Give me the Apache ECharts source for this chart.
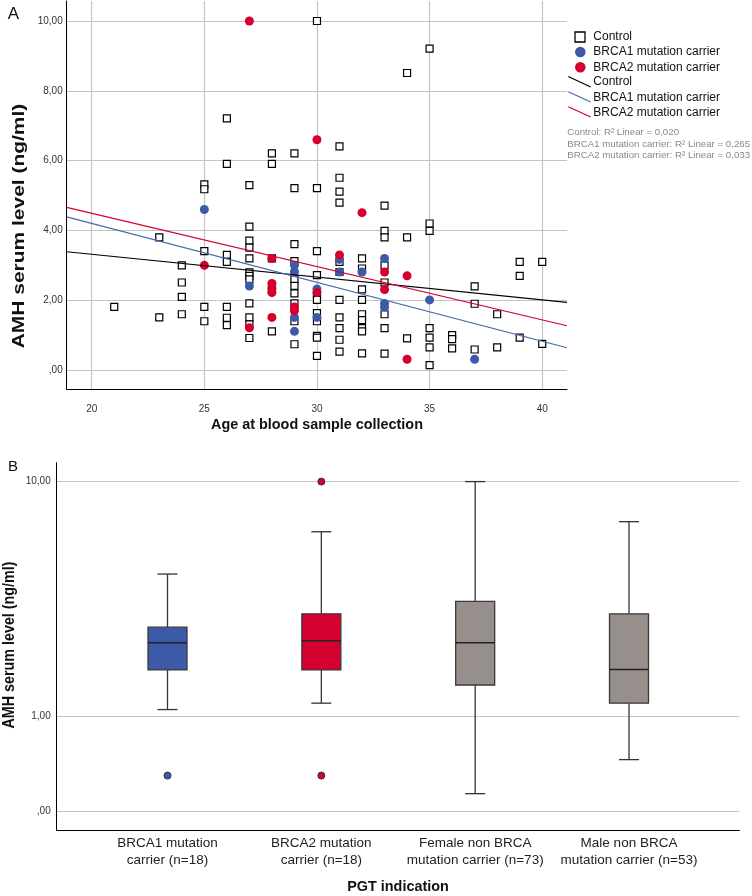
<!DOCTYPE html>
<html><head><meta charset="utf-8">
<script src="https://cdn.jsdelivr.net/npm/echarts@6/dist/echarts.min.js"></script>
<style>html,body{margin:0;padding:0;background:#fff}#c{width:752px;height:896px}</style>
</head><body><div id="c"></div>
<script>
// ---------- Panel A data: [age, AMH ng/ml] ----------
const controlPts = [
  [21,1.81],
  [23,3.80],[23,1.51],
  [24,3.00],[24,2.51],[24,2.10],[24,1.60],
  [25,5.32],[25,5.18],[25,3.41],[25,1.81],[25,1.40],
  [26,7.21],[26,5.91],[26,3.30],[26,3.10],[26,1.81],[26,1.50],[26,1.29],
  [27,5.30],[27,4.11],[27,3.71],[27,3.51],[27,3.20],[27,2.80],[27,2.70],[27,2.60],[27,1.91],[27,1.51],[27,1.31],[27,0.92],
  [28,6.21],[28,5.91],[28,3.20],[28,2.31],[28,1.11],
  [29,6.21],[29,5.21],[29,3.61],[29,3.12],[29,2.60],[29,2.41],[29,2.20],[29,1.91],[29,1.40],[29,0.74],
  [30,10.0],[30,5.21],[30,3.41],[30,2.72],[30,2.15],[30,2.01],[30,1.63],[30,1.40],[30,0.98],[30,0.93],[30,0.41],
  [31,6.41],[31,5.51],[31,5.11],[31,4.80],[31,3.10],[31,2.81],[31,2.01],[31,1.51],[31,1.20],[31,0.87],[31,0.53],
  [32,3.20],[32,2.91],[32,2.31],[32,2.01],[32,1.60],[32,1.43],[32,1.20],[32,1.11],[32,0.48],
  [33,4.71],[33,3.99],[33,3.80],[33,3.00],[33,2.51],[33,1.60],[33,1.20],[33,0.47],
  [34,8.51],[34,3.80],[34,0.91],
  [35,9.21],[35,4.20],[35,3.99],[35,1.20],[35,0.93],[35,0.65],[35,0.14],
  [36,1.00],[36,0.89],[36,0.62],
  [37,2.40],[37,1.90],[37,0.59],
  [38,1.60],[38,0.65],
  [39,3.10],[39,2.70],[39,0.93],
  [40,3.10],[40,0.75]
];
const brca1Pts = [
  [25,4.60],[27,2.41],[29,3.00],[29,2.82],[29,1.51],[29,1.11],[30,2.32],[30,1.51],
  [31,3.17],[31,2.81],[32,2.81],[33,3.20],[33,1.91],[33,1.80],[35,2.01],[37,0.31]
];
const brca2Pts = [
  [25,3.00],[27,10.0],[27,1.21],[28,3.20],[28,2.48],[28,2.34],[28,2.22],[28,1.51],[29,1.81],
  [29,1.70],[30,6.60],[30,2.22],[31,3.30],[32,4.51],[33,2.81],[33,2.31],[34,2.70],[34,0.31]
];
// fit-line end points (age at axis ends, fitted AMH)
const fitAges = [18.89, 41.10];
const fitControl = [3.39, 1.94];
const fitBrca1 = [4.39, 0.64];
const fitBrca2 = [4.66, 1.27];
const xTicksA = [20,25,30,35,40];
const yTicksA = [0,2,4,6,8,10];

// ---------- Panel B data ----------
const boxCategories = ['BRCA1 mutation\ncarrier (n=18)','BRCA2 mutation\ncarrier (n=18)','Female non BRCA\nmutation carrier (n=73)','Male non BRCA\nmutation carrier (n=53)'];
const boxLow    = [1.10, 1.20, 0.14, 0.46];
const boxQ1     = [1.80, 1.80, 1.51, 1.20];
const boxMedian = [2.41, 2.46, 2.41, 1.81];
const boxQ3     = [2.82, 3.21, 3.61, 3.21];
const boxHigh   = [4.62, 6.64, 10.0, 7.22];
const outlierCat = [0, 1, 1];
const outlierVal = [0.30, 10.0, 0.30];
const yTicksB = [0, 1, 10];

const BLUE = '#3d5aa8', RED = '#d5002f', GRAY = '#968f8c';
const boxColors = [BLUE, RED, GRAY, GRAY];
const FONT = "'Liberation Sans', Arial, sans-serif";

const slog = v => Math.sign(v) * Math.log10(1 + Math.abs(v));
const fmt = v => v === 0 ? ',00' : v.toFixed(2).replace('.', ',');

const boxData = boxCategories.map((c, i) => [i + 1, slog(boxLow[i]), slog(boxQ1[i]), slog(boxMedian[i]), slog(boxQ3[i]), slog(boxHigh[i])]);
const outlierData = outlierCat.map((c, i) => ({ value: [c + 1, slog(outlierVal[i])], itemStyle: { color: boxColors[c] } }));

const gridLine = { show: true, lineStyle: { color: '#c4c4c4', width: 1.2 } };
const axisLineBlack = { show: true, onZero: false, lineStyle: { color: '#000', width: 1 } };

const chart = echarts.init(document.getElementById('c'));
chart.setOption({
  animation: false,
  backgroundColor: '#fff',
  grid: [
    { left: 66.7, top: 1, width: 500.3, height: 388.3 },
    { left: 56.7, top: 462.7, width: 682.6, height: 367.3 }
  ],
  xAxis: [
    { gridIndex: 0, type: 'value', min: 18.89, max: 41.10,
      axisLine: axisLineBlack,
      axisTick: { show: false, customValues: xTicksA },
      axisLabel: { customValues: xTicksA, margin: 15, fontSize: 10, color: '#333', fontFamily: FONT },
      splitLine: gridLine },
    { gridIndex: 1, type: 'value', min: 0.2797, max: 4.717,
      axisLine: axisLineBlack,
      axisTick: { show: false, customValues: [1,2,3,4] },
      axisLabel: { customValues: [1,2,3,4], formatter: v => boxCategories[Math.round(v) - 1],
        margin: 5, fontSize: 13.5, lineHeight: 17, color: '#222', fontFamily: FONT },
      splitLine: { show: false } }
  ],
  yAxis: [
    { gridIndex: 0, type: 'value', min: -0.55, max: 10.573,
      axisLine: axisLineBlack,
      axisTick: { show: false, customValues: yTicksA },
      axisLabel: { customValues: yTicksA, formatter: v => fmt(v), margin: 4, fontSize: 10, color: '#333', fontFamily: FONT },
      splitLine: gridLine },
    { gridIndex: 1, type: 'value', min: -0.0577, max: 1.101,
      axisLine: axisLineBlack,
      axisTick: { show: false, customValues: yTicksB.map(slog) },
      axisLabel: { customValues: yTicksB.map(slog), formatter: v => fmt(Math.round(Math.pow(10, v) - 1)),
        margin: 6, fontSize: 10, color: '#333', fontFamily: FONT },
      splitLine: gridLine }
  ],
  series: [
    { type: 'scatter', xAxisIndex: 0, yAxisIndex: 0, data: controlPts, symbol: 'rect', symbolSize: 7,
      itemStyle: { color: '#fff', borderColor: '#000', borderWidth: 1.2, opacity: 1 } },
    { type: 'scatter', xAxisIndex: 0, yAxisIndex: 0, data: brca1Pts, symbol: 'circle', symbolSize: 9,
      itemStyle: { color: BLUE, opacity: 1 } },
    { type: 'scatter', xAxisIndex: 0, yAxisIndex: 0, data: brca2Pts, symbol: 'circle', symbolSize: 9,
      itemStyle: { color: RED, opacity: 1 } },
    { type: 'line', xAxisIndex: 0, yAxisIndex: 0, data: fitAges.map((a, i) => [a, fitControl[i]]), showSymbol: false,
      lineStyle: { color: '#000', width: 1.2 } },
    { type: 'line', xAxisIndex: 0, yAxisIndex: 0, data: fitAges.map((a, i) => [a, fitBrca1[i]]), showSymbol: false,
      lineStyle: { color: '#4a68b0', width: 1.2 } },
    { type: 'line', xAxisIndex: 0, yAxisIndex: 0, data: fitAges.map((a, i) => [a, fitBrca2[i]]), showSymbol: false,
      lineStyle: { color: RED, width: 1.2 } },
    { type: 'custom', xAxisIndex: 1, yAxisIndex: 1, data: boxData,
      encode: { x: 0, y: [1,2,3,4,5] },
      renderItem: function (params, api) {
        const x = api.value(0);
        const lo = api.coord([x, api.value(1)]);
        const q1 = api.coord([x, api.value(2)]);
        const md = api.coord([x, api.value(3)]);
        const q3 = api.coord([x, api.value(4)]);
        const hi = api.coord([x, api.value(5)]);
        const bw = 39, cw = 20;
        const col = boxColors[params.dataIndex];
        const ln = { stroke: '#333', lineWidth: 1.3 };
        return { type: 'group', children: [
          { type: 'line', shape: { x1: hi[0], y1: hi[1], x2: q3[0], y2: q3[1] }, style: ln },
          { type: 'line', shape: { x1: lo[0], y1: lo[1], x2: q1[0], y2: q1[1] }, style: ln },
          { type: 'line', shape: { x1: hi[0] - cw / 2, y1: hi[1], x2: hi[0] + cw / 2, y2: hi[1] }, style: ln },
          { type: 'line', shape: { x1: lo[0] - cw / 2, y1: lo[1], x2: lo[0] + cw / 2, y2: lo[1] }, style: ln },
          { type: 'rect', shape: { x: q3[0] - bw / 2, y: q3[1], width: bw, height: q1[1] - q3[1] },
            style: { fill: col, stroke: '#3a3a3a', lineWidth: 1.3 } },
          { type: 'line', shape: { x1: md[0] - bw / 2, y1: md[1], x2: md[0] + bw / 2, y2: md[1] },
            style: { stroke: '#222', lineWidth: 1.5 } }
        ] };
      } },
    { type: 'scatter', xAxisIndex: 1, yAxisIndex: 1, data: outlierData, symbol: 'circle', symbolSize: 7,
      itemStyle: { borderColor: '#333', borderWidth: 1, opacity: 1 } }
  ],
  graphic: [
    { type: 'text', x: 13.5, y: 14, style: { text: 'A', fontSize: 17, fontFamily: FONT, fill: '#111', align: 'center', verticalAlign: 'middle' } },
    { type: 'text', x: 13, y: 467, style: { text: 'B', fontSize: 15, fontFamily: FONT, fill: '#111', align: 'center', verticalAlign: 'middle' } },
    { type: 'text', x: 20, y: 226, rotation: Math.PI / 2, scaleX: 1.31,
      style: { text: 'AMH serum level (ng/ml)', fontSize: 16, fontWeight: 'bold', fontFamily: FONT, fill: '#111', align: 'center', verticalAlign: 'middle' } },
    { type: 'text', x: 10, y: 645, rotation: Math.PI / 2, scaleX: 0.895,
      style: { text: 'AMH serum level (ng/ml)', fontSize: 16, fontWeight: 'bold', fontFamily: FONT, fill: '#111', align: 'center', verticalAlign: 'middle' } },
    { type: 'text', x: 317, y: 425, style: { text: 'Age at blood sample collection', fontSize: 14.4, fontWeight: 'bold', fontFamily: FONT, fill: '#111', align: 'center', verticalAlign: 'middle' } },
    { type: 'text', x: 398, y: 887, style: { text: 'PGT indication', fontSize: 14.4, fontWeight: 'bold', fontFamily: FONT, fill: '#111', align: 'center', verticalAlign: 'middle' } },
    // legend
    { type: 'rect', shape: { x: 575, y: 32, width: 10, height: 10 }, style: { fill: '#fff', stroke: '#000', lineWidth: 1.3 } },
    { type: 'circle', shape: { cx: 580.3, cy: 52, r: 5.3 }, style: { fill: BLUE } },
    { type: 'circle', shape: { cx: 580.3, cy: 67.2, r: 5.3 }, style: { fill: RED } },
    { type: 'line', shape: { x1: 568.3, y1: 76.5, x2: 590.7, y2: 87 }, style: { stroke: '#000', lineWidth: 1.2 } },
    { type: 'line', shape: { x1: 568.3, y1: 91.7, x2: 590.7, y2: 102 }, style: { stroke: '#4a68b0', lineWidth: 1.2 } },
    { type: 'line', shape: { x1: 568.3, y1: 106.7, x2: 590.7, y2: 117 }, style: { stroke: RED, lineWidth: 1.2 } },
    { type: 'text', x: 593.3, y: 37, style: { text: 'Control', fontSize: 12, fontFamily: FONT, fill: '#111', verticalAlign: 'middle' } },
    { type: 'text', x: 593.3, y: 52, style: { text: 'BRCA1 mutation carrier', fontSize: 12, fontFamily: FONT, fill: '#111', verticalAlign: 'middle' } },
    { type: 'text', x: 593.3, y: 67.3, style: { text: 'BRCA2 mutation carrier', fontSize: 12, fontFamily: FONT, fill: '#111', verticalAlign: 'middle' } },
    { type: 'text', x: 593.3, y: 82, style: { text: 'Control', fontSize: 12, fontFamily: FONT, fill: '#111', verticalAlign: 'middle' } },
    { type: 'text', x: 593.3, y: 98, style: { text: 'BRCA1 mutation carrier', fontSize: 12, fontFamily: FONT, fill: '#111', verticalAlign: 'middle' } },
    { type: 'text', x: 593.3, y: 113, style: { text: 'BRCA2 mutation carrier', fontSize: 12, fontFamily: FONT, fill: '#111', verticalAlign: 'middle' } },
    { type: 'text', x: 567.3, y: 132.3, style: { text: 'Control: R² Linear = 0,020', fontSize: 9.7, fontFamily: FONT, fill: '#888', verticalAlign: 'middle' } },
    { type: 'text', x: 567.3, y: 144.3, style: { text: 'BRCA1 mutation carrier: R² Linear = 0,265', fontSize: 9.7, fontFamily: FONT, fill: '#888', verticalAlign: 'middle' } },
    { type: 'text', x: 567.3, y: 155.7, style: { text: 'BRCA2 mutation carrier: R² Linear = 0,033', fontSize: 9.7, fontFamily: FONT, fill: '#888', verticalAlign: 'middle' } }
  ]
});
</script>
</body></html>
